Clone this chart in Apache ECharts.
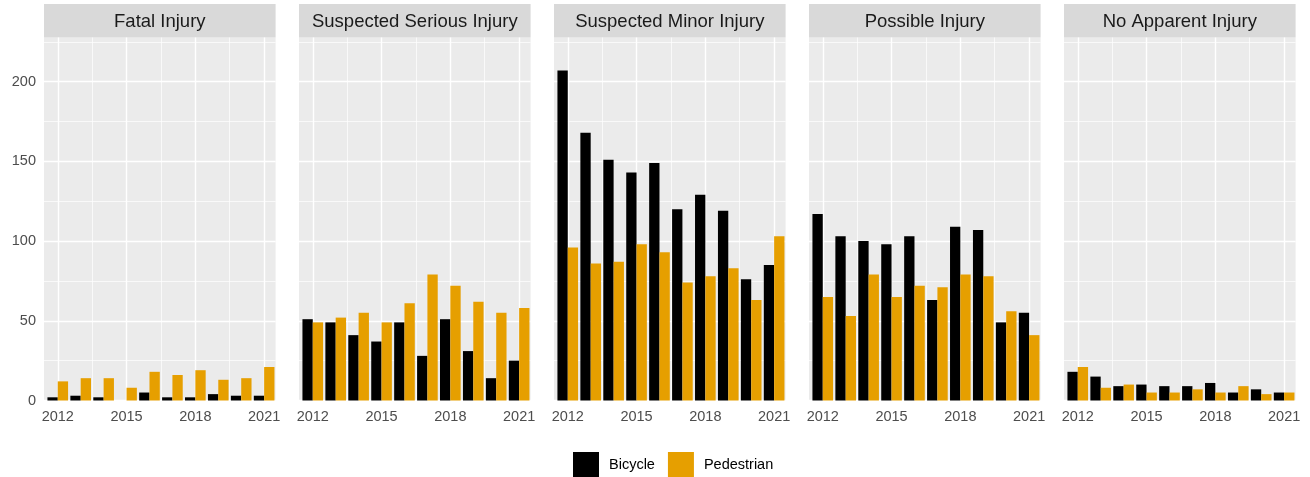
<!DOCTYPE html>
<html>
<head>
<meta charset="utf-8">
<script src="https://cdn.jsdelivr.net/npm/echarts@6/dist/echarts.min.js"></script>
<style>
  html, body { margin: 0; padding: 0; background: #fff; }
  #chart { width: 1310px; height: 477px; }
</style>
</head>
<body>
<div id="chart"></div>
<script>
// data
const years = [2012, 2013, 2014, 2015, 2016, 2017, 2018, 2019, 2020, 2021]
const panels = ['Fatal Injury', 'Suspected Serious Injury', 'Suspected Minor Injury', 'Possible Injury', 'No Apparent Injury']
const seriesNames = ['Bicycle', 'Pedestrian']

const fatalBike = [2, 3, 2, 0, 5, 2, 2, 4, 3, 3]
const fatalPed = [12, 14, 14, 8, 18, 16, 19, 13, 14, 21]
const seriousBike = [51, 49, 41, 37, 49, 28, 51, 31, 14, 25]
const seriousPed = [49, 52, 55, 49, 61, 79, 72, 62, 55, 58]
const minorBike = [207, 168, 151, 143, 149, 120, 129, 119, 76, 85]
const minorPed = [96, 86, 87, 98, 93, 74, 78, 83, 63, 103]
const possibleBike = [117, 103, 100, 98, 103, 63, 109, 107, 49, 55]
const possiblePed = [65, 53, 79, 65, 72, 71, 79, 78, 56, 41]
const noInjBike = [18, 15, 9, 10, 9, 9, 11, 5, 7, 5]
const noInjPed = [21, 8, 10, 5, 5, 7, 5, 9, 4, 5]

const majorYears = [2012, 2015, 2018, 2021]
const minorYears = [2013.5, 2016.5, 2019.5]
const majorY = [0, 50, 100, 150, 200]
const minorY = [25, 75, 125, 175, 225]

const bikeData = [fatalBike, seriousBike, minorBike, possibleBike, noInjBike]
const pedData = [fatalPed, seriousPed, minorPed, possiblePed, noInjPed]

// layout (ggplot facet look)
const FONT = 'Liberation Sans, Arial, sans-serif'
const panelLeft = 44
const panelStep = 255
const panelWidth = 231.6
const panelTop = 37.5
const panelHeight = 363
const stripTop = 4
const colors = ['#000000', '#E69F00']

const chart = echarts.init(document.getElementById('chart'), null, { renderer: 'canvas' })

const grids = []
const xAxes = []
const yAxes = []
const series = []
const graphics = []

panels.forEach((name, i) => {
  const left = panelLeft + i * panelStep
  grids.push({
    left: left, top: panelTop, width: panelWidth, height: panelHeight,
    show: true, backgroundColor: '#EBEBEB', borderWidth: 0
  })

  // major x grid + labels
  xAxes.push({
    gridIndex: i, type: 'value', position: 'bottom', min: 2011.4, max: 2021.5,
    axisLine: { show: false },
    axisTick: { show: false, customValues: majorYears },
    axisLabel: {
      customValues: majorYears, color: '#4D4D4D', fontSize: 14.5, fontFamily: FONT, margin: 9,
      formatter: v => String(v)
    },
    splitLine: { show: true, lineStyle: { color: '#FFFFFF', width: 1.4 } }
  })
  // minor x grid
  xAxes.push({
    gridIndex: i, type: 'value', position: 'top', min: 2011.4, max: 2021.5,
    axisLine: { show: false },
    axisTick: { show: false, customValues: minorYears },
    axisLabel: { show: false },
    splitLine: { show: true, lineStyle: { color: '#FFFFFF', width: 0.7 } }
  })

  yAxes.push({
    gridIndex: i, type: 'value', position: 'left', min: 0, max: 227.7,
    axisLine: { show: false },
    axisTick: { show: false, customValues: majorY },
    axisLabel: {
      show: i === 0, customValues: majorY, color: '#4D4D4D', fontSize: 14.5, fontFamily: FONT, margin: 8
    },
    splitLine: { show: true, lineStyle: { color: '#FFFFFF', width: 1.4 } }
  })
  yAxes.push({
    gridIndex: i, type: 'value', position: 'right', min: 0, max: 227.7,
    axisLine: { show: false },
    axisTick: { show: false, customValues: minorY },
    axisLabel: { show: false },
    splitLine: { show: true, lineStyle: { color: '#FFFFFF', width: 0.7 } }
  })

  ;[bikeData[i], pedData[i]].forEach((vals, k) => {
    series.push({
      name: seriesNames[k],
      type: 'bar',
      xAxisIndex: 2 * i,
      yAxisIndex: 2 * i,
      barWidth: '45%',
      barGap: '0%',
      itemStyle: { color: colors[k] },
      silent: true,
      data: years.map((y, j) => [y, vals[j]])
    })
  })

  // facet strip
  graphics.push({
    type: 'rect',
    shape: { x: left, y: stripTop, width: panelWidth, height: panelTop - stripTop },
    style: { fill: '#D9D9D9' },
    silent: true
  })
  graphics.push({
    type: 'text',
    x: left + panelWidth / 2,
    y: (stripTop + panelTop) / 2 + 1,
    style: {
      text: name, fill: '#1A1A1A', fontSize: 18.5, fontFamily: FONT,
      align: 'center', verticalAlign: 'middle'
    },
    silent: true
  })
})

const option = {
  animation: false,
  textStyle: { fontFamily: FONT },
  legend: {
    data: seriesNames,
    left: 573,
    top: 452,
    padding: 0,
    icon: 'rect',
    itemWidth: 26,
    itemHeight: 26,
    itemGap: 13,
    textStyle: { fontSize: 14.5, color: '#000000', fontFamily: FONT, padding: [0, 0, 0, 5] }
  },
  grid: grids,
  xAxis: xAxes,
  yAxis: yAxes,
  series: series,
  graphic: graphics
}

chart.setOption(option)
</script>
</body>
</html>
